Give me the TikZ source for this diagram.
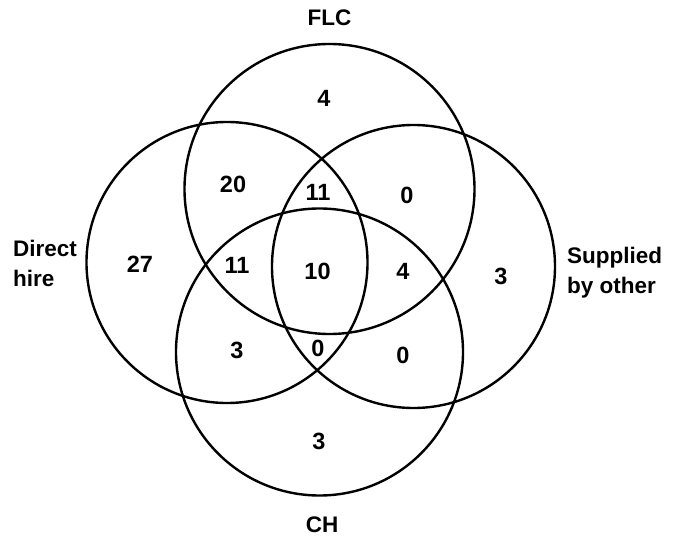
\documentclass[tikz,border=0pt]{standalone}
\usepackage{fontspec}
\setmainfont{Liberation Sans}
\begin{document}
\begin{tikzpicture}[x=1pt,y=-1pt,
  ring/.style={draw=black,line width=2.4pt},
  setlabel/.style={font=\bfseries\fontsize{22.5}{30}\selectfont,inner sep=0pt,align=left},
  count/.style={font=\bfseries\fontsize{23.5}{28}\selectfont,inner sep=0pt}]
\useasboundingbox (0,0) rectangle (674,537);

% set centres
\coordinate (cFLC) at (329.5,189);
\coordinate (cDH)  at (227,262.5);
\coordinate (cSBO) at (413.5,266.5);
\coordinate (cCH)  at (319.5,352);

\draw[ring] (cFLC) circle[radius=145];
\draw[ring] (cDH)  circle[radius=140.5];
\draw[ring] (cSBO) circle[radius=141.5];
\draw[ring] (cCH)  circle[radius=143.5];

% set names (base anchor sits on the last line)
\node[setlabel] (lFLC) at (329.5,18) {FLC};
\node[setlabel] (lCH)  at (322,525) {CH};
\node[setlabel,anchor=base west] (lDH)  at (13,286.7) {Direct\\hire};
\node[setlabel,anchor=base west] (lSBO) at (567,293) {Supplied\\by other};

% region counts
\node[count] (nF)    at (324,98)    {4};
\node[count] (nFD)   at (233,184)   {20};
\node[count] (nFS)   at (407,195)   {0};
\node[count] (nFDS)  at (318,192)   {11};
\node[count] (nD)    at (140,264)   {27};
\node[count] (nFDC)  at (237,265)   {11};
\node[count] (nALL)  at (317.5,271) {10};
\node[count] (nFSC)  at (403,271)   {4};
\node[count] (nS)    at (501,276)   {3};
\node[count] (nDC)   at (237,350)   {3};
\node[count] (nDSC)  at (318,348)   {0};
\node[count] (nSC)   at (403,355)   {0};
\node[count] (nC)    at (319,441)   {3};
\end{tikzpicture}
\end{document}
